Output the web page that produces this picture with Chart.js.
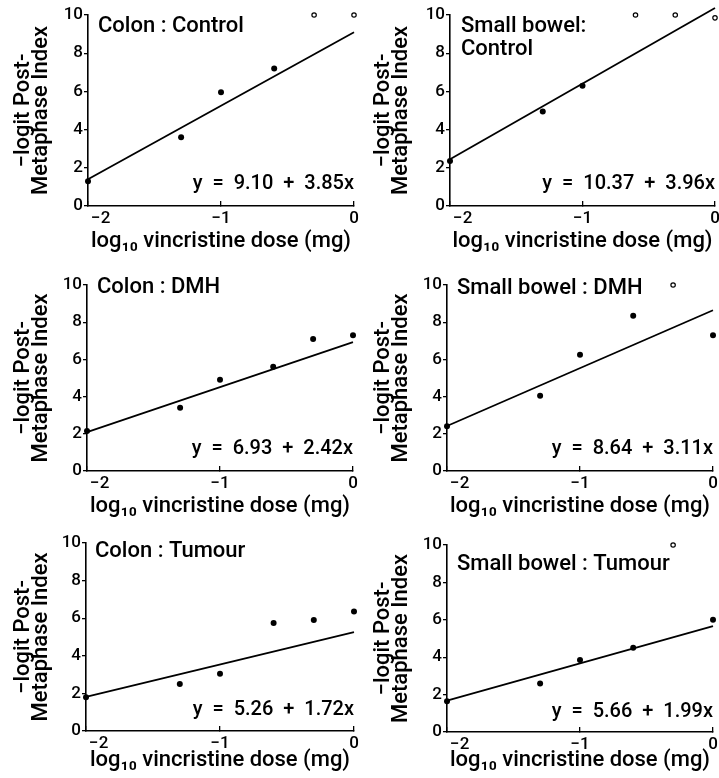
<!DOCTYPE html>
<html><head><meta charset="utf-8">
<script src="https://cdn.jsdelivr.net/npm/chart.js@4"></script>
<style>
html,body{margin:0;padding:0;background:#fff;}
#wrap{position:relative;width:719px;height:778px;overflow:hidden;}
canvas{position:absolute;}
</style></head><body><div id="wrap">
<canvas id="p1"></canvas><canvas id="p2"></canvas>
<canvas id="p3"></canvas><canvas id="p4"></canvas>
<canvas id="p5"></canvas><canvas id="p6"></canvas>
</div>
<script>
// ---- data ----
const doses = [-2, -1.3, -1, -0.6, -0.3, 0];          // log10 vincristine dose (mg)
const xTickValues = [-2, -1, 0];
const yTickValues = [0, 2, 4, 6, 8, 10];

const colonControlFilled = [1.3, 3.6, 5.95, 7.2, null, null];
const colonControlOpen   = [null, null, null, null, 10, 10];
const colonControlFit    = [1.40, 9.10];   // y at x=-2, y at x=0
const colonControlEq     = 'y  =  9.10  +  3.85x';

const smallControlFilled = [2.35, 4.95, 6.3, null, null, null];
const smallControlOpen   = [null, null, null, 10, 10, 9.85];
const smallControlFit    = [2.45, 10.37];
const smallControlEq     = 'y  =  10.37  +  3.96x';

const colonDmhFilled = [2.15, 3.4, 4.9, 5.6, 7.1, 7.3];
const colonDmhOpen   = [null, null, null, null, null, null];
const colonDmhFit    = [2.09, 6.93];
const colonDmhEq     = 'y  =  6.93  +  2.42x';

const smallDmhFilled = [2.4, 4.05, 6.25, 8.35, null, 7.3];
const smallDmhOpen   = [null, null, null, null, 10, null];
const smallDmhFit    = [2.42, 8.64];
const smallDmhEq     = 'y  =  8.64  +  3.11x';

const colonTumourFilled = [1.8, 2.5, 3.05, 5.75, 5.9, 6.35];
const colonTumourOpen   = [null, null, null, null, null, null];
const colonTumourFit    = [1.82, 5.26];
const colonTumourEq     = 'y  =  5.26  +  1.72x';

const smallTumourFilled = [1.65, 2.6, 3.85, 4.5, null, 6.0];
const smallTumourOpen   = [null, null, null, null, 10, null];
const smallTumourFit    = [1.68, 5.66];
const smallTumourEq     = 'y  =  5.66  +  1.99x';

const xTitle = 'log\u2081\u2080 vincristine dose (mg)';
const yTitle = ['\u2212logit Post-', 'Metaphase Index'];

// ---- layout (positions only) ----
const FAM = 'Roboto, "Liberation Sans", Arial, sans-serif';
const WT = '500';
const panels = [
  {id:'p1', x:0,   y:0,   W:360, H:260, L:88, R:354, T:15, B:206, xpb:5,
   title:['Colon : Control'], tx:10, ty:16.5, tlh:23,
   filled:colonControlFilled, open:colonControlOpen, fit:colonControlFit, eq:colonControlEq, ey:-17.5},
  {id:'p2', x:360, y:0,   W:359, H:260, L:90, R:355, T:15, B:206, xpb:5,
   title:['Small bowel:', 'Control'], tx:11, ty:16.5, tlh:23.5,
   filled:smallControlFilled, open:smallControlOpen, fit:smallControlFit, eq:smallControlEq, ey:-17.5},
  {id:'p3', x:0,   y:260, W:360, H:260, L:87, R:353, T:25, B:211, xpb:0,
   title:['Colon : DMH'], tx:10, ty:8, tlh:23,
   filled:colonDmhFilled, open:colonDmhOpen, fit:colonDmhFit, eq:colonDmhEq, ey:-17.5},
  {id:'p4', x:360, y:260, W:359, H:260, L:87, R:353, T:25, B:211, xpb:0,
   title:['Small bowel : DMH'], tx:10, ty:8.5, tlh:23,
   filled:smallDmhFilled, open:smallDmhOpen, fit:smallDmhFit, eq:smallDmhEq, ey:-17.5},
  {id:'p5', x:0,   y:520, W:360, H:258, L:86, R:354, T:23, B:211, xpb:4,
   title:['Colon : Tumour'], tx:9, ty:14, tlh:23,
   filled:colonTumourFilled, open:colonTumourOpen, fit:colonTumourFit, eq:colonTumourEq, ey:-16},
  {id:'p6', x:360, y:520, W:359, H:258, L:87, R:353, T:25, B:212, xpb:4,
   title:['Small bowel : Tumour'], tx:10, ty:25, tlh:23,
   filled:smallTumourFilled, open:smallTumourOpen, fit:smallTumourFit, eq:smallTumourEq, ey:-15},
];

const panelText = {
  id:'panelText',
  afterDraw(chart, args, o){
    const {ctx, chartArea:a} = chart;
    ctx.save();
    ctx.fillStyle = '#000';
    ctx.textBaseline = 'alphabetic';
    ctx.textAlign = 'left';
    ctx.font = WT + ' 22px ' + FAM;
    o.title.forEach((t,i)=>ctx.fillText(t, a.left + o.tx, a.top + o.ty + i*o.tlh));
    ctx.textAlign = 'right';
    ctx.font = WT + ' 20px ' + FAM;
    ctx.fillText(o.eq, a.right, a.bottom + o.ey);
    ctx.restore();
  }
};

function pts(vals){
  const out = [];
  vals.forEach((v,i)=>{ if (v !== null) out.push({x:doses[i], y:v}); });
  return out;
}

function fmtX(v){
  if (v === -2) return '      \u22122';
  if (v < 0) return '\u2212' + Math.abs(v);
  return String(v);
}

panels.forEach(p=>{
  const cv = document.getElementById(p.id);
  cv.width = p.W; cv.height = p.H;
  cv.style.left = p.x + 'px'; cv.style.top = p.y + 'px';
  cv.style.width = p.W + 'px'; cv.style.height = p.H + 'px';
  new Chart(cv, {
    type:'scatter',
    data:{datasets:[
      {data:pts(p.filled), pointRadius:3, pointHoverRadius:3, backgroundColor:'#000', borderColor:'#000', borderWidth:0, clip:false},
      {data:pts(p.open), pointRadius:2.2, pointHoverRadius:2.2, backgroundColor:'#fff', borderColor:'#000', borderWidth:1.2, clip:false},
      {type:'line', data:[{x:xTickValues[0], y:p.fit[0]}, {x:xTickValues[2], y:p.fit[1]}],
       borderColor:'#000', borderWidth:1.8, pointRadius:0, fill:false, clip:false, tension:0}
    ]},
    options:{
      responsive:false, animation:false, devicePixelRatio:1,
      layout:{padding:{left:0, top:p.T, right:p.W - p.R, bottom:0}},
      plugins:{legend:{display:false}, tooltip:{enabled:false},
        panelText:{title:p.title, tx:p.tx, ty:p.ty, tlh:p.tlh, eq:p.eq, ey:p.ey}},
      scales:{
        x:{type:'linear', min:-2, max:0,
           afterBuildTicks(s){ s.ticks = xTickValues.map(v=>({value:v})); },
           afterFit(s){ s.height = p.H - p.B; s.paddingLeft = 0; s.paddingRight = 0; },
           grid:{display:true, drawOnChartArea:false, drawTicks:true, tickLength:-5, color:'#000', lineWidth:1.3},
           border:{display:true, color:'#000', width:1.6},
           ticks:{color:'#000', font:{family:FAM, size:17, weight:WT}, padding:8, maxRotation:0, autoSkip:false, callback:fmtX},
           title:{display:true, text:xTitle, color:'#000', font:{family:FAM, size:22, weight:WT, lineHeight:1.2}, padding:{top:0, bottom:p.xpb}}
        },
        y:{type:'linear', min:0, max:10,
           afterBuildTicks(s){ s.ticks = yTickValues.map(v=>({value:v})); },
           afterFit(s){ s.width = p.L; s.paddingTop = 0; s.paddingBottom = 0; },
           grid:{display:true, drawOnChartArea:false, drawTicks:true, tickLength:4, color:'#000', lineWidth:1.3},
           border:{display:true, color:'#000', width:1.6},
           ticks:{color:'#000', font:{family:FAM, size:17, weight:WT}, padding:1, autoSkip:false, callback:v=>String(v)},
           title:{display:true, text:yTitle, color:'#000', font:{family:FAM, size:22, weight:WT, lineHeight:'18px'}, padding:{top:14, bottom:0}}
        }
      }
    },
    plugins:[panelText]
  });
});
</script>
</body></html>
